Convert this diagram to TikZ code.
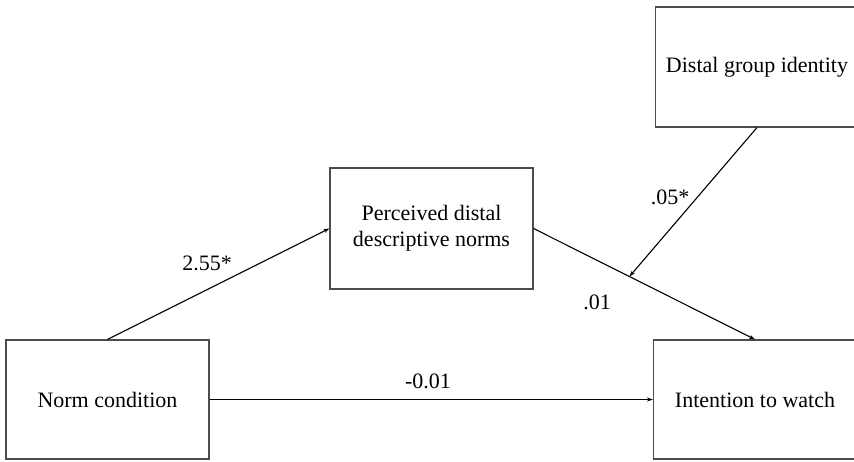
\documentclass[tikz,border=0pt]{standalone}
\usepackage{fontspec}
\setmainfont{Liberation Serif}
\usetikzlibrary{arrows.meta,calc}

\tikzset{
  varbox/.style={draw=black!70,line width=1.1pt,rectangle,minimum width=203pt,align=center,font=\fontsize{22}{26}\selectfont},
  coef/.style={font=\fontsize{22}{26}\selectfont},
  effect/.style={line width=1.1pt,-{Stealth[length=6pt,width=4pt]}}
}

\begin{document}
\begin{tikzpicture}[x=1pt,y=-1pt]
    \useasboundingbox (0,0) rectangle (854,461);
    \clip (0,0) rectangle (854,461);

    \node[varbox,minimum height=119pt] (norm) at (107.5,399.5) {Norm condition} ;
    \node[varbox,minimum height=119pt] (intent) at (755,399.5) {Intention to watch} ;
    \node[varbox,minimum height=121pt] (perc) at (431.5,228.5) {Perceived distal\\descriptive norms} ;
    \node[varbox,minimum height=120pt] (ident) at (757,67) {Distal group identity} ;

    \coordinate (mod) at ($(perc.east)!0.433!(intent.north)$) ;

    \node[coef] (a) at (207,263) {2.55*} ;
    \node[coef] (b) at (597,302) {.01} ;
    \node[coef] (w) at (670,197) {.05*} ;
    \node[coef] (c) at (428,381) {-0.01} ;

    \draw[effect] (norm.north) -- (perc.west) ;
    \draw[effect] (perc.east) -- (intent.north) ;
    \draw[effect] (ident.south) -- (mod) ;
    \draw[effect] (norm.east) -- (intent.west) ;
\end{tikzpicture}
\end{document}
